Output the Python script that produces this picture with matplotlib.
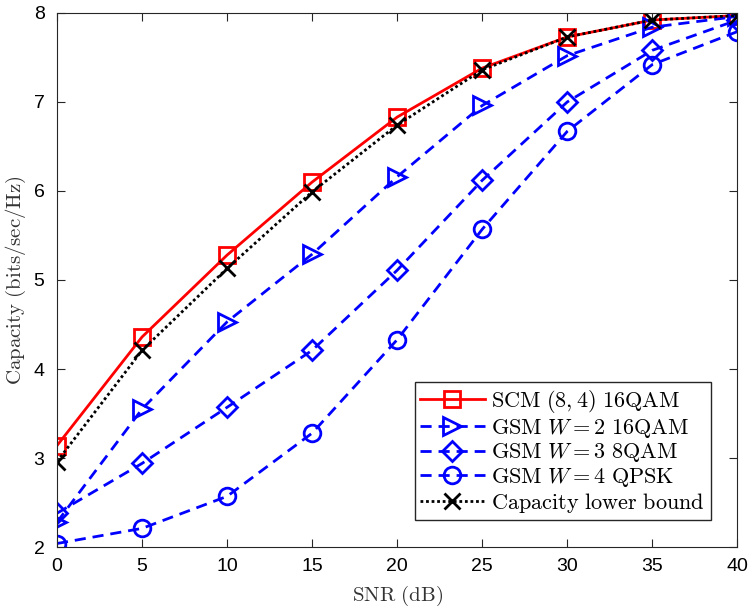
import matplotlib.pyplot as plt

plt.rcParams['mathtext.fontset'] = 'cm'
plt.rcParams['font.family'] = ['Liberation Sans', 'DejaVu Sans']

snr = [0, 5, 10, 15, 20, 25, 30, 35, 40]
scm_16qam = [3.14, 4.36, 5.28, 6.10, 6.83, 7.38, 7.73, 7.92, 7.97]
gsm_w2_16qam = [2.28, 3.55, 4.53, 5.29, 6.16, 6.96, 7.52, 7.84, 7.96]
gsm_w3_8qam = [2.38, 2.94, 3.57, 4.21, 5.11, 6.12, 7.00, 7.58, 7.92]
gsm_w4_qpsk = [2.04, 2.21, 2.57, 3.28, 4.33, 5.57, 6.67, 7.42, 7.79]
lower_bound = [2.96, 4.21, 5.13, 5.99, 6.74, 7.36, 7.73, 7.92, 7.97]

fig = plt.figure(figsize=(7.56, 6.14), dpi=100)
ax = fig.add_axes([0.0754, 0.109, 0.9, 0.87])

dash = (0, (4, 2.5))
ax.plot(snr, scm_16qam, color='red', lw=2, marker='s', ms=11, mfc='none', mew=2,
        label=r'$\mathrm{SCM}\ (8,4)\ \mathrm{16QAM}$')
ax.plot(snr, gsm_w2_16qam, color='blue', lw=2, ls=dash, marker='>', ms=13, mfc='none', mew=2,
        label=r'$\mathrm{GSM}\ W=2\ \mathrm{16QAM}$')
ax.plot(snr, gsm_w3_8qam, color='blue', lw=2, ls=dash, marker='D', ms=10, mfc='none', mew=2,
        label=r'$\mathrm{GSM}\ W=3\ \mathrm{8QAM}$')
ax.plot(snr, gsm_w4_qpsk, color='blue', lw=2, ls=dash, marker='o', ms=12, mfc='none', mew=2,
        label=r'$\mathrm{GSM}\ W=4\ \mathrm{QPSK}$')
ax.plot(snr, lower_bound, color='black', lw=2, ls=(0, (1, 1)), marker='x', ms=11, mew=2,
        label=r'$\mathrm{Capacity\ lower\ bound}$')

ax.set_xlim(0, 40)
ax.set_ylim(2, 8)
ax.set_xticks(range(0, 41, 5))
ax.set_yticks(range(2, 9))
ax.tick_params(direction='in', top=True, right=True, labelsize=14, length=6, color='#262626')
ax.tick_params(axis='x', pad=8)
ax.tick_params(axis='y', pad=9)
for s in ax.spines.values():
    s.set_color('#262626')

ax.set_xlabel(r'$\mathrm{SNR\ (dB)}$', fontsize=15, color='#333333', labelpad=6)
ax.set_ylabel(r'$\mathrm{Capacity\ (bits/sec/Hz)}$', fontsize=15, color='#333333', labelpad=4)

leg = ax.legend(loc='lower right', fontsize=16, fancybox=False, edgecolor='#262626',
                framealpha=1, handlelength=2.9, borderpad=0.25, labelspacing=0.08,
                handletextpad=0.3, borderaxespad=1.2)
leg.get_frame().set_linewidth(1)

fig.savefig('out.png')
